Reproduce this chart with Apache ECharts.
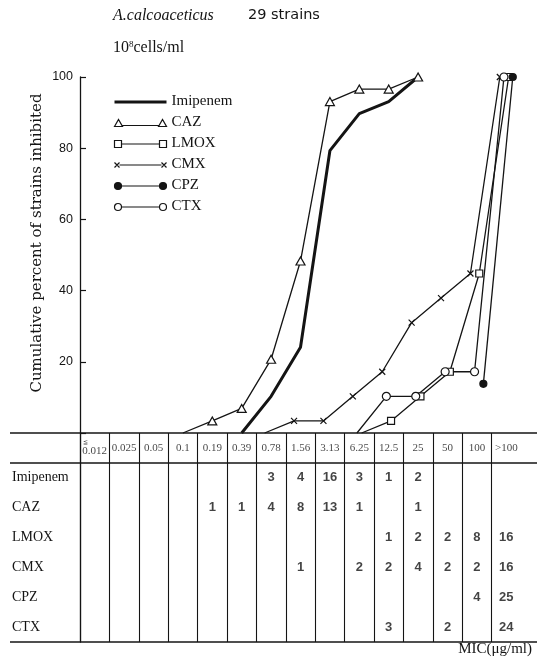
<!DOCTYPE html>
<html>
<head>
<meta charset="utf-8">
<script src="https://cdn.jsdelivr.net/npm/echarts@6/dist/echarts.min.js"></script>
<style>
  html, body { margin: 0; padding: 0; background: #fff; }
  #chart { width: 537px; height: 661px; }
</style>
</head>
<body>
<div id="chart"></div>
<script>
// MIC levels (µg/ml), one table column each
const micLevels = ['0.012', '0.025', '0.05', '0.1', '0.19', '0.39', '0.78', '1.56', '3.13', '6.25', '12.5', '25', '50', '100', '>100'];
const drugs = ['Imipenem', 'CAZ', 'LMOX', 'CMX', 'CPZ', 'CTX'];
const yTicks = [0, 20, 40, 60, 80, 100];

// number of strains inhibited at each MIC level
const countsImipenem = [null, null, null, null, null, null, 3, 4, 16, 3, 1, 2, null, null, null];
const countsCAZ      = [null, null, null, null, 1, 1, 4, 8, 13, 1, null, 1, null, null, null];
const countsLMOX     = [null, null, null, null, null, null, null, null, null, null, 1, 2, 2, 8, 16];
const countsCMX      = [null, null, null, null, null, null, null, 1, null, 2, 2, 4, 2, 2, 16];
const countsCPZ      = [null, null, null, null, null, null, null, null, null, null, null, null, null, 4, 25];
const countsCTX      = [null, null, null, null, null, null, null, null, null, null, 3, null, 2, null, 24];

// cumulative percent of the 29 strains inhibited
const cumImipenem = [null, null, null, null, null, 0, 10.3, 24.1, 79.3, 89.7, 93.1, 100, null, null, null];
const cumCAZ      = [null, null, null, 0, 3.4, 6.9, 20.7, 48.3, 93.1, 96.6, 96.6, 100, null, null, null];
const cumLMOX     = [null, null, null, null, null, null, null, null, null, 0, 3.4, 10.3, 17.2, 44.8, 100];
const cumCMX      = [null, null, null, null, null, null, 0, 3.4, 3.4, 10.3, 17.2, 31.0, 37.9, 44.8, 100];
const cumCPZ      = [null, null, null, null, null, null, null, null, null, null, null, null, null, 13.8, 100];
const cumCTX      = [null, null, null, null, null, null, null, null, null, 0, 10.3, 10.3, 17.2, 17.2, 100];

const countRows = [countsImipenem, countsCAZ, countsLMOX, countsCMX, countsCPZ, countsCTX];
const cumRows = [cumImipenem, cumCAZ, cumLMOX, cumCMX, cumCPZ, cumCTX];

const INK = '#141414';
const SERIF = 'Liberation Serif';

// marker style per drug; dodge nudges overlapping curves apart (in columns)
const styles = {
  Imipenem: { symbol: 'none', size: 0, fill: INK, width: 3, dodge: 0,
              icon: 'path://M0 0M52 10M0 5.5L52 5.5', iconFill: 'none', iconBorder: 3 },
  CAZ:      { symbol: 'triangle', size: [9, 8], fill: '#fff', width: 1.3, dodge: 0,
              icon: 'path://M0 0M52 10M0 9L4 2L8 9ZM8 8L44 8M44 9L48 2L52 9Z', iconFill: '#fff', iconBorder: 1.2 },
  LMOX:     { symbol: 'rect', size: 7, fill: '#fff', width: 1.3, dodge: 0.08,
              icon: 'path://M0 0M52 10M0 2L7 2L7 9L0 9ZM7 5.5L45 5.5M45 2L52 2L52 9L45 9Z', iconFill: '#fff', iconBorder: 1.2 },
  CMX:      { symbol: 'path://M0 0L10 10M10 0L0 10', size: 6, fill: 'none', width: 1.3, dodge: -0.22,
              icon: 'path://M0 0M52 10M0 3L5 8M5 3L0 8M5 5.5L47 5.5M47 3L52 8M52 3L47 8', iconFill: 'none', iconBorder: 1.2 },
  CPZ:      { symbol: 'circle', size: 7, fill: INK, width: 1.3, dodge: 0.22,
              icon: 'path://M0 0M52 10M0 5.5A3.5 3.5 0 1 0 7 5.5A3.5 3.5 0 1 0 0 5.5ZM7 5.5L45 5.5M45 5.5A3.5 3.5 0 1 0 52 5.5A3.5 3.5 0 1 0 45 5.5Z', iconFill: INK, iconBorder: 1.2 },
  CTX:      { symbol: 'circle', size: 8, fill: '#fff', width: 1.3, dodge: -0.08,
              icon: 'path://M0 0M52 10M0 5.5A3.5 3.5 0 1 0 7 5.5A3.5 3.5 0 1 0 0 5.5ZM7 5.5L45 5.5M45 5.5A3.5 3.5 0 1 0 52 5.5A3.5 3.5 0 1 0 45 5.5Z', iconFill: '#fff', iconBorder: 1.2 }
};

// shared column geometry for the curve panel and the table below it
const LEFT = 80, COLW = 29.4, PLOT_TOP = 77, BASE = 433, TABLE_BOTTOM = 642;
const GRID_W = COLW * micLevels.length;

const curveSeries = drugs.map((name, k) => {
  const st = styles[name];
  const data = [];
  cumRows[k].forEach((v, i) => {
    if (v === null) return;
    const item = { value: [i + st.dodge, v] };
    if (v === 0) item.symbol = 'none';
    data.push(item);
  });
  return {
    name, type: 'line', xAxisIndex: 0, yAxisIndex: 0,
    data, clip: false, showAllSymbol: true,
    symbol: st.symbol, symbolSize: st.size,
    lineStyle: { color: INK, width: st.width },
    itemStyle: { color: st.fill, borderColor: INK, borderWidth: 1.2 },
    emphasis: { disabled: true },
    z: name === 'Imipenem' ? 2 : 3
  };
});

const headerData = micLevels.map((m, i) => [i, 0]);
const cellData = [];
countRows.forEach((row, r) => row.forEach((c, i) => {
  if (c !== null) cellData.push([i, r + 1, c]);
}));

const option = {
  animation: false,
  backgroundColor: '#fff',
  textStyle: { fontFamily: SERIF, color: INK },
  title: [
    { text: 'A.calcoaceticus', left: 108, top: 3,
      textStyle: { fontFamily: SERIF, fontStyle: 'italic', fontWeight: 'normal', fontSize: 16, color: INK } },
    { text: '29 strains', left: 243, top: 3,
      textStyle: { fontFamily: 'DejaVu Sans', fontWeight: 'normal', fontSize: 14.5, color: INK } },
    { text: '10{s|8}cells/ml', left: 108, top: 35,
      textStyle: { fontFamily: SERIF, fontWeight: 'normal', fontSize: 16, color: INK,
                   rich: { s: { fontFamily: SERIF, fontSize: 9, verticalAlign: 'top', color: INK } } } },
    { text: 'MIC(μg/ml)', right: 0, top: 637,
      textStyle: { fontFamily: SERIF, fontWeight: 'normal', fontSize: 15, color: INK } }
  ],
  legend: {
    data: drugs.map(name => ({
      name, icon: styles[name].icon,
      itemStyle: { color: styles[name].iconFill, borderColor: INK, borderWidth: styles[name].iconBorder }
    })),
    orient: 'vertical', left: 112, top: 94, padding: 0,
    itemWidth: 52, itemHeight: 10, itemGap: 6,
    selectedMode: false,
    textStyle: { fontFamily: SERIF, fontSize: 15, color: INK, lineHeight: 15 }
  },
  grid: [
    { left: LEFT, top: PLOT_TOP, width: GRID_W, height: BASE - PLOT_TOP },
    { left: LEFT, top: BASE, width: GRID_W, height: TABLE_BOTTOM - BASE }
  ],
  xAxis: [
    { gridIndex: 0, type: 'value', min: -0.5, max: micLevels.length - 0.5, show: false },
    { gridIndex: 1, type: 'category', data: micLevels, boundaryGap: true,
      axisLine: { show: false }, axisTick: { show: false }, axisLabel: { show: false },
      splitLine: { show: true, interval: 0, showMaxLine: false, lineStyle: { color: INK, width: 1.1 } } }
  ],
  yAxis: [
    { gridIndex: 0, type: 'value', min: yTicks[0], max: yTicks[yTicks.length - 1], interval: 20,
      axisLine: { show: true, onZero: false, lineStyle: { color: INK, width: 1.3 } },
      axisTick: { show: true, inside: true, length: 6, lineStyle: { color: INK, width: 1.2 } },
      axisLabel: { margin: 7, fontFamily: 'Liberation Sans', fontSize: 12.5, color: INK,
                   formatter: v => (v === 0 ? '' : String(v)) },
      splitLine: { show: false } },
    { gridIndex: 1, type: 'category', data: [''].concat(drugs), inverse: true,
      axisLine: { show: true, onZero: false, lineStyle: { color: INK, width: 1.3 } },
      axisTick: { show: false },
      axisLabel: { align: 'left', margin: 68, fontFamily: SERIF, fontSize: 14, color: INK },
      splitLine: { show: false } }
  ],
  series: curveSeries.concat([
    { type: 'scatter', xAxisIndex: 1, yAxisIndex: 1, data: headerData, silent: true,
      symbolSize: 1, itemStyle: { color: 'transparent' },
      label: { show: true, position: 'inside', fontFamily: SERIF, fontSize: 11, color: INK,
               formatter: p => (p.dataIndex === 0 ? '{le|≦}\n' : '') + '{n|' + micLevels[p.dataIndex] + '}',
               rich: { le: { fontSize: 6, lineHeight: 6, padding: [0, 19, 0, 0], color: INK },
                       n: { fontFamily: SERIF, fontSize: 11, lineHeight: 12, color: INK } } } },
    { type: 'scatter', xAxisIndex: 1, yAxisIndex: 1, data: cellData, silent: true,
      symbolSize: 1, itemStyle: { color: 'transparent' },
      label: { show: true, position: 'inside', fontFamily: 'Liberation Sans', fontWeight: 'bold',
               fontSize: 13, color: INK, formatter: p => String(p.value[2]) } }
  ]),
  graphic: [
    { type: 'line', shape: { x1: 10, y1: BASE, x2: 537, y2: BASE }, style: { stroke: INK, lineWidth: 1.3 }, z: 10 },
    { type: 'line', shape: { x1: 10, y1: BASE + 30, x2: 537, y2: BASE + 30 }, style: { stroke: INK, lineWidth: 1.3 }, z: 10 },
    { type: 'line', shape: { x1: 10, y1: TABLE_BOTTOM, x2: 537, y2: TABLE_BOTTOM }, style: { stroke: INK, lineWidth: 1.6 }, z: 10 },
    { type: 'text', x: 37, y: 243, rotation: Math.PI / 2,
      style: { text: 'Cumulative percent of strains inhibited', fontFamily: 'DejaVu Serif', fontSize: 15,
               fill: INK, align: 'center', verticalAlign: 'middle' } }
  ]
};

const chart = echarts.init(document.getElementById('chart'), null, { renderer: 'canvas' });
chart.setOption(option);
</script>
</body>
</html>
